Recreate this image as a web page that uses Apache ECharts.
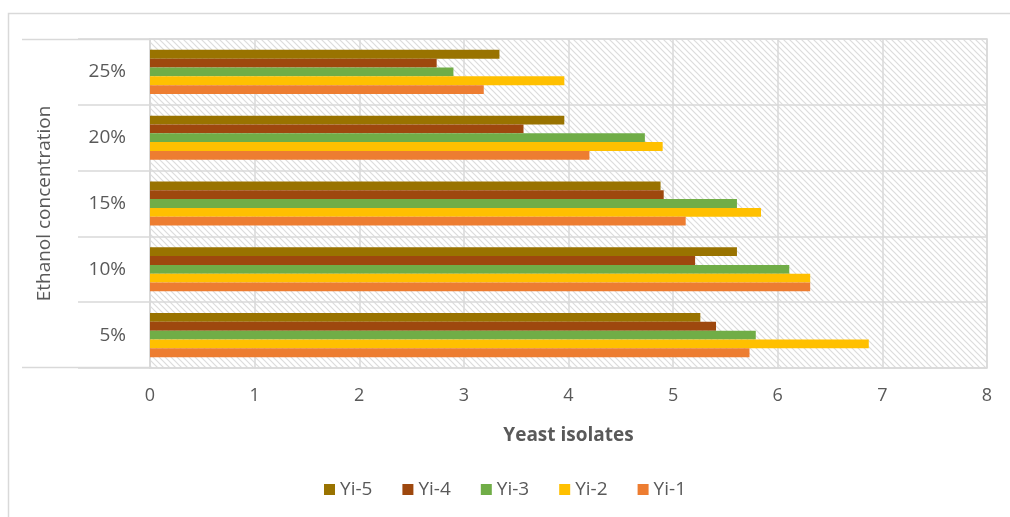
<!DOCTYPE html>
<html>
<head>
  <meta charset="utf-8">
  <script src="https://cdn.jsdelivr.net/npm/echarts@6/dist/echarts.min.js"></script>
</head>
<body style="margin:0">
<div id="main" style="width:1010px;height:517px;"></div>
<script type="text/javascript">
var categories = ['5%', '10%', '15%', '20%', '25%'];
var seriesNames = ['Yi-5', 'Yi-4', 'Yi-3', 'Yi-2', 'Yi-1'];
var yi5 = [5.26, 5.61, 4.88, 3.96, 3.34];
var yi4 = [5.41, 5.21, 4.91, 3.57, 2.74];
var yi3 = [5.79, 6.11, 5.61, 4.73, 2.90];
var yi2 = [6.87, 6.31, 5.84, 4.90, 3.96];
var yi1 = [5.73, 6.31, 5.12, 4.20, 3.19];
var xTicks = [0, 1, 2, 3, 4, 5, 6, 7, 8];
var colors = ['#997300', '#9E480E', '#70AD47', '#FFC000', '#ED7D31'];

// hatched plot background like the Excel pattern fill
var hatch = document.createElement('canvas');
hatch.width = 6; hatch.height = 6;
var hc = hatch.getContext('2d');
hc.fillStyle = '#ffffff';
hc.fillRect(0, 0, 6, 6);
hc.strokeStyle = '#dcdcdc';
hc.lineWidth = 1.2;
hc.beginPath();
hc.moveTo(-1, -1); hc.lineTo(7, 7);
hc.moveTo(-4, 2); hc.lineTo(4, 10);
hc.moveTo(2, -4); hc.lineTo(10, 4);
hc.stroke();

var allData = [yi5, yi4, yi3, yi2, yi1];
var series = [];
for (var i = 0; i < seriesNames.length; i++) {
  series.push({
    name: seriesNames[i],
    type: 'bar',
    data: allData[i],
    barGap: '0%',
    barCategoryGap: '33%',
    itemStyle: { color: colors[i] }
  });
}

var myChart = echarts.init(document.getElementById('main'));
myChart.setOption({
  animation: false,
  textStyle: { fontFamily: 'Open Sans, sans-serif' },
  graphic: [
    { type: 'polyline', shape: { points: [[8.5, 517], [8.5, 13.5], [1010, 13.5]] },
      style: { stroke: '#d9d9d9', lineWidth: 1.5, fill: null }, silent: true },
    { type: 'line', shape: { x1: 22, y1: 39.5, x2: 150, y2: 39.5 },
      style: { stroke: '#d9d9d9', lineWidth: 1.5 }, silent: true },
    { type: 'line', shape: { x1: 22, y1: 367.5, x2: 150, y2: 367.5 },
      style: { stroke: '#d9d9d9', lineWidth: 1.5 }, silent: true }
  ],
  grid: {
    left: 150, right: 23, top: 39, bottom: 149,
    show: true,
    backgroundColor: { image: hatch, repeat: 'repeat' },
    borderColor: '#d9d9d9',
    borderWidth: 1.5
  },
  legend: {
    data: seriesNames,
    bottom: 13,
    left: 'center',
    itemWidth: 11,
    itemHeight: 11,
    itemGap: 30,
    icon: 'rect',
    textStyle: { color: '#595959', fontSize: 19 }
  },
  xAxis: {
    type: 'value',
    min: 0, max: 8, interval: 1,
    name: 'Yeast isolates',
    nameLocation: 'middle',
    nameGap: 58,
    nameTextStyle: { color: '#595959', fontSize: 19, fontWeight: 'bold' },
    axisLine: { show: false },
    axisTick: { show: false },
    axisLabel: { color: '#595959', fontSize: 18, margin: 19,
      formatter: function (v) { return xTicks.indexOf(v) >= 0 ? String(v) : ''; } },
    splitLine: { lineStyle: { color: '#d9d9d9', width: 1.5 } }
  },
  yAxis: {
    type: 'category',
    data: categories,
    name: 'Ethanol concentration',
    nameLocation: 'middle',
    nameRotate: 90,
    nameGap: 96,
    nameTextStyle: { color: '#595959', fontSize: 19 },
    axisLine: { show: true, lineStyle: { color: '#d9d9d9', width: 1.5 } },
    axisTick: { show: true, length: 72, lineStyle: { color: '#d9d9d9', width: 1.5 } },
    axisLabel: { color: '#595959', fontSize: 19, margin: 24 },
    splitLine: { show: true, lineStyle: { color: '#d9d9d9', width: 1.5 } }
  },
  series: series
});
</script>
</body>
</html>
